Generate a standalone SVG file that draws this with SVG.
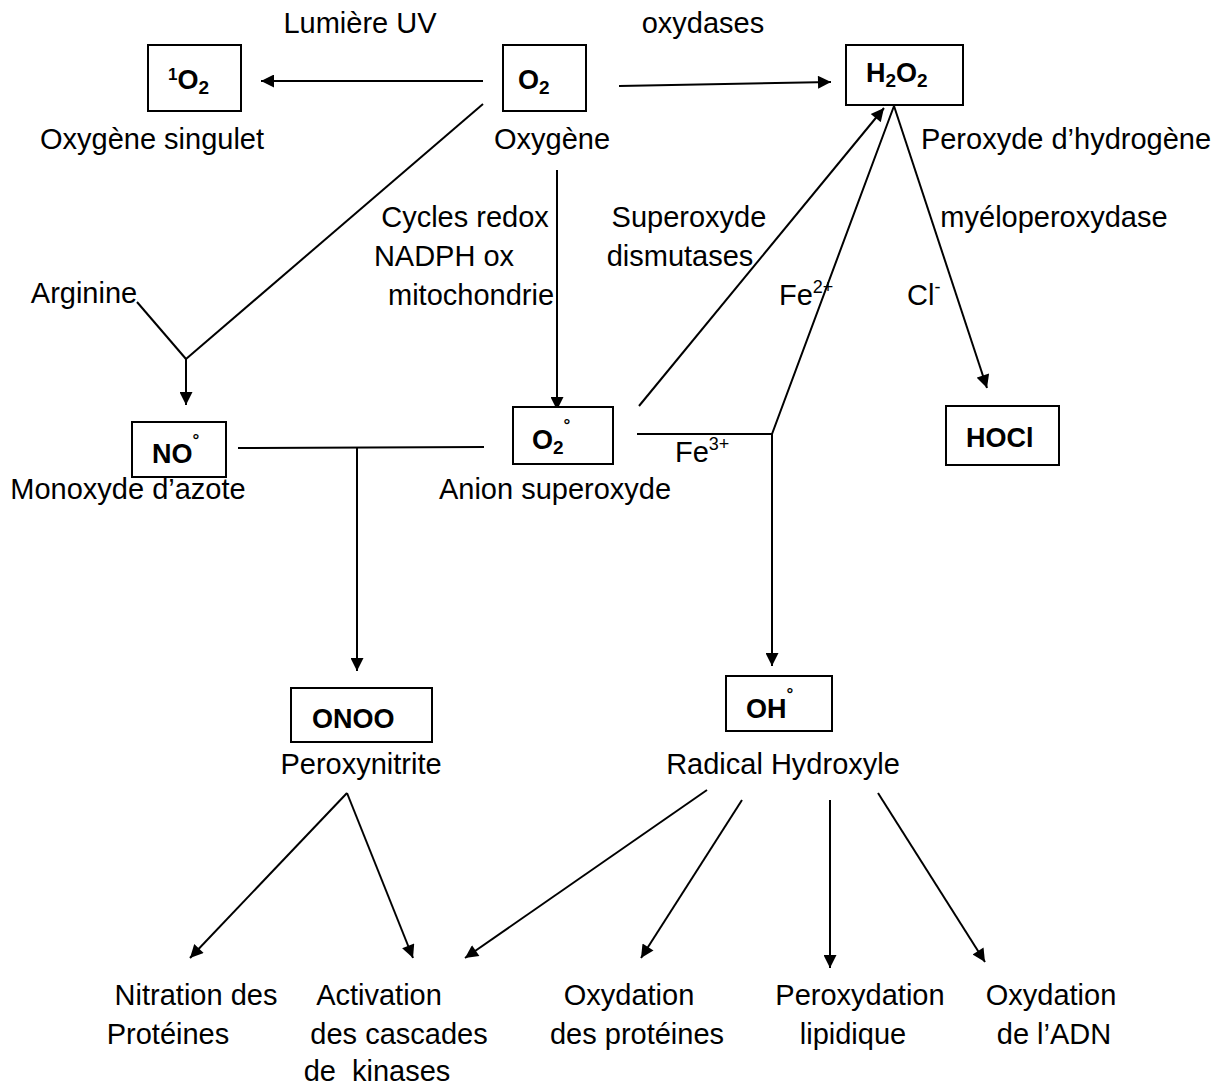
<svg xmlns="http://www.w3.org/2000/svg" width="1219" height="1088" viewBox="0 0 1219 1088">
<style>
  .box { fill: #fff; stroke: #000; stroke-width: 2; }
  .t { font-family: "Liberation Sans", Arial, sans-serif; font-size: 29px; fill: #000; }
  .m { text-anchor: middle; }
  .b { font-family: "Liberation Sans", Arial, sans-serif; font-size: 27px; font-weight: bold; fill: #000; }
  .sub { font-size: 19px; }
  .sup { font-size: 17px; }
  .ion { font-size: 18px; }
  .e { fill: none; stroke: #000; stroke-width: 2; }
  .a { marker-end: url(#ah); }
</style>
<defs>
  <marker id="ah" viewBox="0 0 10 10" refX="10" refY="5" markerWidth="7.5" markerHeight="6.5" orient="auto" markerUnits="strokeWidth">
    <path d="M0,0 L10,5 L0,10 Z" fill="#000"/>
  </marker>
</defs>
<rect width="1219" height="1088" fill="#fff"/>

<g id="connectors">
  <line class="e a" x1="483" y1="81" x2="261" y2="81"/>
  <line class="e a" x1="619" y1="86" x2="831" y2="82"/>
  <line class="e" x1="483" y1="104" x2="186" y2="359"/>
  <line class="e" x1="137" y1="302" x2="186" y2="359"/>
  <line class="e a" x1="186" y1="359" x2="186" y2="405"/>
  <line class="e a" x1="557" y1="170" x2="557" y2="410"/>
  <line class="e a" x1="639" y1="406" x2="884" y2="108"/>
  <polyline class="e" points="637,434 772,434 894,106"/>
  <polyline class="e a" points="894,106 987,388"/>
  <line class="e a" x1="772" y1="434" x2="772" y2="666"/>
  <line class="e" x1="238" y1="448" x2="484" y2="447"/>
  <line class="e a" x1="357" y1="448" x2="357" y2="671"/>
  <line class="e a" x1="347" y1="793" x2="190" y2="958"/>
  <line class="e a" x1="347" y1="793" x2="413" y2="958"/>
  <line class="e a" x1="707" y1="790" x2="465" y2="958"/>
  <line class="e a" x1="742" y1="800" x2="641" y2="958"/>
  <line class="e a" x1="830" y1="800" x2="830" y2="968"/>
  <line class="e a" x1="878" y1="793" x2="985" y2="962"/>

  <text class="t m" x="360" y="33">Lumière UV</text>
  <text class="t m" x="703" y="33">oxydases</text>
  <text class="t m" x="84" y="303">Arginine</text>
  <text class="t m" x="465" y="227">Cycles redox</text>
  <text class="t m" x="444" y="266">NADPH ox</text>
  <text class="t m" x="471" y="305">mitochondrie</text>
  <text class="t m" x="689" y="227">Superoxyde</text>
  <text class="t m" x="680" y="266">dismutases</text>
  <text class="t m" x="1054" y="227">myéloperoxydase</text>
  <text class="t" x="779" y="305">Fe<tspan class="ion" dy="-12">2+</tspan></text>
  <text class="t" x="907" y="305">Cl<tspan class="ion" dy="-12">-</tspan></text>
  <text class="t" x="675" y="462">Fe<tspan class="ion" dy="-12">3+</tspan></text>
</g>

<g id="node-singlet">
  <rect class="box" x="148" y="45" width="93" height="66"/>
  <text class="b" x="168" y="89"><tspan class="sup" dy="-9">1</tspan><tspan dy="9">O</tspan><tspan class="sub" dy="5">2</tspan></text>
  <text class="t m" x="152" y="149">Oxygène singulet</text>
</g>

<g id="node-O2">
  <rect class="box" x="503" y="45" width="83" height="66"/>
  <text class="b" x="518" y="89">O<tspan class="sub" dy="5">2</tspan></text>
  <text class="t m" x="552" y="149">Oxygène</text>
</g>

<g id="node-H2O2">
  <rect class="box" x="846" y="45" width="117" height="60"/>
  <text class="b" x="866" y="82">H<tspan class="sub" dy="5">2</tspan><tspan dy="-5">O</tspan><tspan class="sub" dy="5">2</tspan></text>
  <text class="t m" x="1066" y="149">Peroxyde d’hydrogène</text>
</g>

<g id="node-NO">
  <rect class="box" x="132" y="422" width="94" height="55"/>
  <text class="b" x="152" y="463">NO<tspan class="sup" dy="-17">°</tspan></text>
  <text class="t m" x="128" y="499">Monoxyde d’azote</text>
</g>

<g id="node-O2rad">
  <rect class="box" x="513" y="407" width="100" height="57"/>
  <text class="b" x="532" y="449">O<tspan class="sub" dy="5">2</tspan><tspan class="sup" dy="-23">°</tspan></text>
  <text class="t m" x="555" y="499">Anion superoxyde</text>
</g>

<g id="node-HOCl">
  <rect class="box" x="946" y="406" width="113" height="59"/>
  <text class="b" x="966" y="447">HOCl</text>
</g>

<g id="node-ONOO">
  <rect class="box" x="291" y="688" width="141" height="54"/>
  <text class="b" x="312" y="728">ONOO</text>
  <text class="t m" x="361" y="774">Peroxynitrite</text>
</g>

<g id="node-OH">
  <rect class="box" x="726" y="676" width="106" height="55"/>
  <text class="b" x="746" y="718">OH<tspan class="sup" dy="-18">°</tspan></text>
  <text class="t m" x="783" y="774">Radical Hydroxyle</text>
</g>

<g id="node-nitration">
  <text class="t m" x="196" y="1005">Nitration des</text>
  <text class="t m" x="168" y="1044">Protéines</text>
</g>
<g id="node-kinases">
  <text class="t m" x="379" y="1005">Activation</text>
  <text class="t m" x="399" y="1044">des cascades</text>
  <text class="t m" x="377" y="1081" xml:space="preserve">de  kinases</text>
</g>
<g id="node-oxprot">
  <text class="t m" x="629" y="1005">Oxydation</text>
  <text class="t m" x="637" y="1044">des protéines</text>
</g>
<g id="node-lipid">
  <text class="t m" x="860" y="1005">Peroxydation</text>
  <text class="t m" x="853" y="1044">lipidique</text>
</g>
<g id="node-adn">
  <text class="t m" x="1051" y="1005">Oxydation</text>
  <text class="t m" x="1054" y="1044">de l’ADN</text>
</g>
</svg>
